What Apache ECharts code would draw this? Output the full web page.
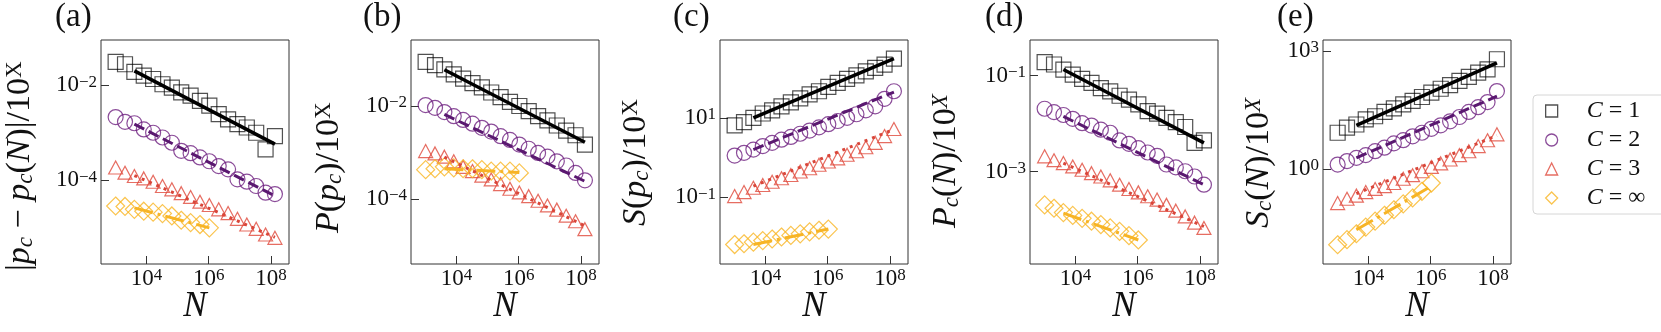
<!DOCTYPE html>
<html>
<head>
<meta charset="utf-8">
<script src="https://cdn.jsdelivr.net/npm/echarts@6/dist/echarts.min.js"></script>
<style>
html, body { margin: 0; padding: 0; background: #fff; }
#main { width: 1661px; height: 332px; }
</style>
</head>
<body>
<div id="main"></div>
<script>
// system sizes N = 2^10 ... 2^27, C = inf only up to 2^20
var N = [1024, 2048, 4096, 8192, 16384, 32768, 65536, 131072, 262144, 524288, 1048576,
         2097152, 4194304, 8388608, 16777216, 33554432, 67108864, 134217728];
var Ninf = [1024, 2048, 4096, 8192, 16384, 32768, 65536, 131072, 262144, 524288, 1048576];
var fitN = [4096, 134217728];
var fitNinf = [4096, 1048576];

// values below are log10 of the plotted quantity
// (a) |p_c - p_c(N)|
var a1 = [-1.51, -1.56, -1.72, -1.80, -1.87, -1.98, -2.05, -2.15, -2.22, -2.33, -2.43, -2.61, -2.72, -2.82, -2.89, -3.00, -3.35, -3.07];
var a2 = [-2.67, -2.77, -2.80, -2.93, -3.00, -3.10, -3.21, -3.38, -3.43, -3.52, -3.60, -3.70, -3.77, -3.98, -4.03, -4.12, -4.26, -4.29];
var a3 = [-3.73, -3.84, -3.91, -3.96, -4.03, -4.12, -4.19, -4.27, -4.35, -4.45, -4.52, -4.61, -4.69, -4.81, -4.93, -5.02, -5.14, -5.21];
var aInf = [-4.54, -4.55, -4.61, -4.65, -4.67, -4.70, -4.75, -4.84, -4.89, -4.93, -5.00];
var aFit = [[-1.70, -3.24], [-2.82, -4.33], [-3.90, -5.20], [-4.58, -5.00]];
// (b) P(p_c)
var b1 = [-1.05, -1.12, -1.21, -1.32, -1.41, -1.51, -1.60, -1.71, -1.81, -1.91, -2.00, -2.11, -2.22, -2.31, -2.42, -2.53, -2.63, -2.83];
var b2 = [-1.98, -2.04, -2.13, -2.22, -2.30, -2.38, -2.47, -2.55, -2.65, -2.73, -2.83, -2.92, -3.01, -3.09, -3.19, -3.28, -3.44, -3.60];
var b3 = [-2.97, -3.02, -3.09, -3.19, -3.31, -3.40, -3.50, -3.58, -3.68, -3.78, -3.86, -3.94, -4.04, -4.14, -4.23, -4.36, -4.48, -4.65];
var bInf = [-3.37, -3.35, -3.31, -3.33, -3.35, -3.35, -3.37, -3.40, -3.40, -3.40, -3.44];
var bFit = [[-1.22, -2.78], [-2.18, -3.62], [-3.10, -4.58], [-3.35, -3.43]];
// (c) S(p_c)
var c1 = [0.81, 0.89, 1.00, 1.11, 1.19, 1.29, 1.39, 1.49, 1.59, 1.67, 1.78, 1.88, 1.98, 2.07, 2.17, 2.26, 2.34, 2.49];
var c2 = [0.05, 0.12, 0.20, 0.29, 0.37, 0.45, 0.52, 0.60, 0.68, 0.76, 0.84, 0.92, 1.00, 1.09, 1.19, 1.29, 1.48, 1.67];
var c3 = [-0.97, -0.87, -0.76, -0.69, -0.61, -0.52, -0.44, -0.35, -0.27, -0.18, -0.10, -0.02, 0.07, 0.16, 0.26, 0.37, 0.54, 0.72];
var cInf = [-2.19, -2.17, -2.13, -2.09, -2.05, -2.00, -1.96, -1.92, -1.87, -1.83, -1.80];
var cFit = [[1.00, 2.49], [0.20, 1.65], [-0.72, 0.71], [-2.19, -1.80]];
// (d) P_c(N)
var d1 = [-0.72, -0.77, -0.875, -0.98, -1.07, -1.15, -1.26, -1.33, -1.42, -1.50, -1.60, -1.74, -1.79, -1.88, -1.97, -2.07, -2.40, -2.35];
var d2 = [-1.69, -1.76, -1.82, -1.90, -1.99, -2.04, -2.125, -2.19, -2.35, -2.42, -2.51, -2.60, -2.67, -2.85, -2.91, -2.99, -3.10, -3.27];
var d3 = [-2.68, -2.76, -2.82, -2.89, -2.96, -3.03, -3.10, -3.18, -3.27, -3.36, -3.43, -3.51, -3.58, -3.69, -3.81, -3.93, -4.06, -4.17];
var dInf = [-3.69, -3.76, -3.85, -3.91, -3.97, -4.03, -4.10, -4.17, -4.24, -4.33, -4.42];
var dFit = [[-0.875, -2.40], [-1.85, -3.27], [-2.82, -4.14], [-3.86, -4.42]];
// (e) S_c(N)
var e1 = [0.92, 1.05, 1.13, 1.26, 1.34, 1.45, 1.54, 1.64, 1.73, 1.83, 1.94, 2.04, 2.13, 2.24, 2.34, 2.45, 2.53, 2.79];
var e2 = [0.11, 0.20, 0.28, 0.35, 0.45, 0.54, 0.65, 0.73, 0.83, 0.92, 1.02, 1.11, 1.21, 1.32, 1.45, 1.57, 1.70, 1.98];
var e3 = [-0.87, -0.76, -0.68, -0.59, -0.51, -0.44, -0.36, -0.25, -0.16, -0.06, 0.05, 0.14, 0.24, 0.35, 0.45, 0.58, 0.73, 0.88];
var eInf = [-1.93, -1.80, -1.65, -1.48, -1.33, -1.18, -1.04, -0.89, -0.74, -0.57, -0.36];
var eFit = [[1.11, 2.70], [0.28, 1.85], [-0.63, 0.85], [-1.55, -0.44]];

var xTicks = [4, 6, 8];
var yTicks = [[-4, -2], [-4, -2], [-1, 1], [-3, -1], [0, 3]];
var yRange = [[-5.76, -1.05], [-5.40, -0.58], [-2.68, 2.96], [-4.92, -0.26], [-2.42, 3.28]];
var panelLabels = ['(a)', '(b)', '(c)', '(d)', '(e)'];
var legendNames = ['C = 1', 'C = 2', 'C = 3', 'C = \u221e'];

var serif = 'Liberation Serif';
var ink = '#111';
var colors = ['rgba(0,0,0,0.85)', '#6e1f80', '#e0483b', '#f9b523'];
var fitColors = ['#000', '#5a1870', '#d9463a', '#f7b425'];
var symbols = ['rect', 'circle', 'triangle', 'diamond'];
var symbolSizes = [15, 15, [14, 13], [18, 18]];
var fitTypes = ['solid', [11, 5], [3, 5], [19, 5, 3, 5]];

var gridLefts = [101, 411, 720, 1030, 1323];
var gridTop = 40, gridW = 188, gridH = 224;
// y titles are drawn left-aligned from their lower end
var yNameX = [20, 329, 636, 946, 1259];
var yNameStart = [271, 233, 226, 228, 228];
var yNames = [
    '{r||}{i|p}{sb|c}{r| \u2212 }{i|p}{sb|c}{r|(}{i|N}{r|)|/10}{sp|X}',
    '{i|P}{r|(}{i|p}{sb|c}{r|)/10}{sp|X}',
    '{i|S}{r|(}{i|p}{sb|c}{r|)/10}{sp|X}',
    '{i|P}{sb|c}{r|(}{i|N}{r|)/10}{spi|X}',
    '{i|S}{sb|c}{r|(}{i|N}{r|)/10}{spi|X}'
];
var panelX = [55, 363, 673, 985, 1277];

var panels = [
    [a1, a2, a3, aInf, aFit],
    [b1, b2, b3, bInf, bFit],
    [c1, c2, c3, cInf, cFit],
    [d1, d2, d3, dInf, dFit],
    [e1, e2, e3, eInf, eFit]
];

var tickRich = {
    b: {fontFamily: serif, fontSize: 23, lineHeight: 23, padding: [4, 0, 4, 0], color: ink},
    s: {fontFamily: serif, fontSize: 17, lineHeight: 17, verticalAlign: 'top', color: ink}
};
var nameRich = {
    r: {fontFamily: serif, fontSize: 34, lineHeight: 34, padding: [5, 0, 5, 0], fill: ink},
    i: {fontFamily: serif, fontStyle: 'italic', fontSize: 34, lineHeight: 34, padding: [5, 0, 5, 0], fill: ink},
    sb: {fontFamily: serif, fontStyle: 'italic', fontSize: 23, lineHeight: 23, verticalAlign: 'bottom', fill: ink},
    sp: {fontFamily: serif, fontSize: 23, lineHeight: 23, verticalAlign: 'top', fill: ink},
    spi: {fontFamily: serif, fontStyle: 'italic', fontSize: 23, lineHeight: 23, verticalAlign: 'top', fill: ink}
};

function pow10(v) {
    var s = v < 0 ? '\u2212' + Math.abs(v) : '' + v;
    return '{b|10}{s|' + s + '}';
}

function pts(xs, ys) {
    return ys.map(function (y, i) { return [Math.log10(xs[i]), y]; });
}

var grids = [], xAxes = [], yAxes = [], titles = [], series = [], graphics = [];
for (var p = 0; p < 5; p++) {
    grids.push({
        left: gridLefts[p], top: gridTop, width: gridW, height: gridH,
        show: true, borderColor: '#333', borderWidth: 1, backgroundColor: 'transparent',
        outerBoundsMode: 'none'
    });
    xAxes.push({
        type: 'value', gridIndex: p, min: 2.54, max: 8.58,
        axisLine: {show: false, onZero: false}, splitLine: {show: false},
        axisTick: {inside: true, length: 8, customValues: xTicks, lineStyle: {color: '#333'}},
        axisLabel: {customValues: xTicks, margin: 3, formatter: pow10, rich: tickRich}
    });
    yAxes.push({
        type: 'value', gridIndex: p, min: yRange[p][0], max: yRange[p][1],
        axisLine: {show: false, onZero: false}, splitLine: {show: false},
        axisTick: {inside: true, length: 8, customValues: yTicks[p], lineStyle: {color: '#333'}},
        axisLabel: {customValues: yTicks[p], margin: 4, formatter: pow10, rich: tickRich}
    });
    titles.push({
        text: panelLabels[p], left: panelX[p], top: 1, padding: 0,
        textStyle: {fontFamily: serif, fontWeight: 'normal', fontSize: 33, color: ink}
    });
    // axis titles
    graphics.push({
        type: 'text', x: yNameX[p], y: yNameStart[p], rotation: Math.PI / 2, silent: true,
        style: {text: yNames[p], rich: nameRich, align: 'left', verticalAlign: 'middle',
                textAlign: 'left', textVerticalAlign: 'middle', fill: ink}
    });
    graphics.push({
        type: 'text', x: gridLefts[p] + gridW / 2, y: 307, silent: true,
        style: {text: 'N', font: 'italic 35px ' + serif, align: 'center', verticalAlign: 'middle',
                textAlign: 'center', textVerticalAlign: 'middle', fill: ink}
    });

    var set = panels[p];
    for (var c = 0; c < 4; c++) {
        series.push({
            type: 'scatter', name: legendNames[c],
            xAxisIndex: p, yAxisIndex: p,
            symbol: symbols[c], symbolSize: symbolSizes[c],
            itemStyle: {color: 'rgba(0,0,0,0)', borderColor: colors[c], borderWidth: 1.2},
            emphasis: {disabled: true},
            data: pts(c < 3 ? N : Ninf, set[c])
        });
    }
    for (var c = 0; c < 4; c++) {
        var fx = c < 3 ? fitN : fitNinf;
        series.push({
            type: 'line', name: 'fit' + c,
            xAxisIndex: p, yAxisIndex: p,
            showSymbol: false, symbol: 'none', silent: true, z: 3,
            lineStyle: {color: fitColors[c], width: c === 0 ? 3.5 : 3, type: fitTypes[c]},
            data: pts(fx, set[4][c])
        });
    }
}

var chart = echarts.init(document.getElementById('main'));
var option = {
    animation: false,
    backgroundColor: '#fff',
    title: titles,
    graphic: graphics,
    grid: grids,
    xAxis: xAxes,
    yAxis: yAxes,
    legend: {
        orient: 'vertical', left: 1533, top: 95,
        padding: [4, 44, 4, 12], itemGap: 5, itemWidth: 12, itemHeight: 12,
        borderColor: '#d6d6d6', borderWidth: 1, borderRadius: 4,
        selectedMode: false,
        data: legendNames.map(function (n, i) {
            return {
                name: n, icon: symbols[i],
                itemStyle: {color: 'rgba(0,0,0,0)', borderColor: colors[i], borderWidth: 1.3}
            };
        }),
        formatter: function (name) {
            return '{i|C}{t| = ' + name.split('= ')[1] + '}';
        },
        textStyle: {
            fontFamily: serif, fontSize: 24, color: ink, lineHeight: 22,
            rich: {
                i: {fontFamily: serif, fontStyle: 'italic', fontSize: 24, color: ink, padding: [0, 0, 0, 24]},
                t: {fontFamily: serif, fontSize: 24, color: ink}
            }
        }
    },
    series: series
};
chart.setOption(option);
</script>
</body>
</html>
